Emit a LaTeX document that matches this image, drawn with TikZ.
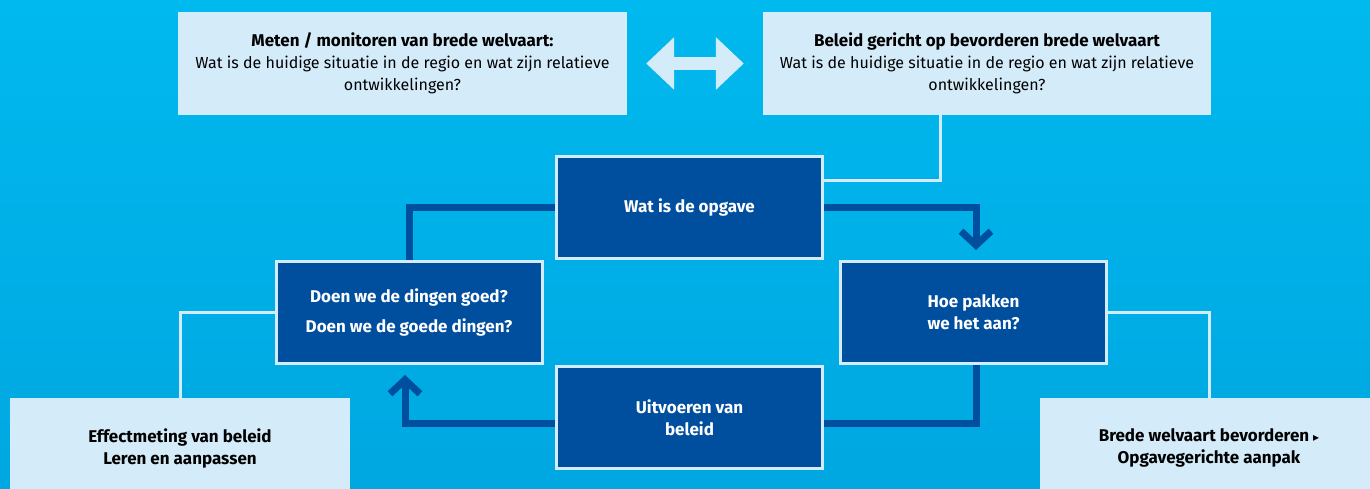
\documentclass[tikz,border=0pt]{standalone}
\usepackage{fontspec}
\setmainfont{Fira Sans}
\newfontfamily\symfont{DejaVu Sans}
\usetikzlibrary{positioning,arrows.meta}

\definecolor{sky}{HTML}{00B9EE}
\definecolor{skydeep}{HTML}{00A7E1}
\definecolor{navy}{HTML}{004F9F}
\definecolor{pale}{HTML}{D4ECFA}

\pgfdeclarelayer{canvas}
\pgfdeclarelayer{lines}
\pgfsetlayers{canvas,lines,main}

\newcommand{\boldtext}{\fontsize{17}{22}\selectfont\bfseries}

\tikzset{
  paleBox/.style={fill=pale, text=black, align=center, inner sep=0pt},
  navyBox/.style={draw=pale, line width=3pt, fill=navy, text=white, font=\boldtext,
    align=center, minimum width=266pt, minimum height=102pt},
  loopLine/.style={draw=navy, line width=7pt},
  barbTip/.style={-{Straight Barb[length=14pt, width=30pt]}, shorten >=10pt},
  thinLine/.style={draw=pale, line width=3pt},
  swapArrow/.style={draw=pale, line width=12.6pt,
    {Triangle[length=28pt, width=51pt]}-{Triangle[length=28pt, width=51pt]},
    shorten <=19pt, shorten >=19pt}
}

\begin{document}
\fontsize{16}{22}\selectfont
\begin{tikzpicture}[x=1pt, y=1pt]
  \useasboundingbox (0,0) rectangle (1370,488);
  \begin{pgfonlayer}{canvas}
    \shade[top color=sky, bottom color=skydeep] (0,0) rectangle (1370,488);
  \end{pgfonlayer}

  % top row
  \node[paleBox, minimum width=449pt, minimum height=103pt] (meten) at (402.5,424.5)
    {{\boldtext Meten / monitoren van brede welvaart:}\\Wat is de huidige situatie in de regio en wat zijn relatieve\\ontwikkelingen?};
  \node[paleBox, minimum width=448pt, minimum height=103pt] (beleid) at (987,424.5)
    {{\boldtext Beleid gericht op bevorderen brede welvaart}\\Wat is de huidige situatie in de regio en wat zijn relatieve\\ontwikkelingen?};
  \draw[swapArrow] (meten.east) -- (beleid.west);

  % cycle
  \node[navyBox] (opgave) at (689.5,280.5) {Wat is de opgave};
  \node[navyBox] (doen) at (409,175.5) {Doen we de dingen goed?\\[8pt]Doen we de goede dingen?};
  \node[navyBox] (hoe) at (973.5,175.5) {Hoe pakken\\we het aan?};
  \node[navyBox] (uitvoeren) at (689.5,70.5) {Uitvoeren van\\beleid};

  % bottom row
  \node[paleBox, font=\boldtext, minimum width=340pt, minimum height=100pt] (effect) at (180,40)
    {Effectmeting van beleid\\Leren en aanpassen};
  \node[paleBox, font=\boldtext, minimum width=338pt, minimum height=100pt] (brede) at (1209,40)
    {Brede welvaart bevorderen {\symfont\fontsize{12}{12}\selectfont ▸}\\Opgavegerichte aanpak};

  \begin{pgfonlayer}{lines}
    \draw[loopLine] (opgave.west) -| (doen.north);
    \draw[loopLine, barbTip] (opgave.east) -| ([xshift=2.5pt]hoe.north);
    \draw[loopLine] ([xshift=2.5pt]hoe.south) |- ([yshift=-5.5pt]uitvoeren.east);
    \draw[loopLine, barbTip] ([yshift=-5.5pt]uitvoeren.west) -| ([xshift=-4pt]doen.south);
    \draw[thinLine] ([xshift=-47pt]beleid.south) |- ([yshift=26.5pt]opgave.east);
    \draw[thinLine] (doen.west) -| (effect.north);
    \draw[thinLine] (hoe.east) -| (brede.north);
  \end{pgfonlayer}
\end{tikzpicture}
\end{document}
